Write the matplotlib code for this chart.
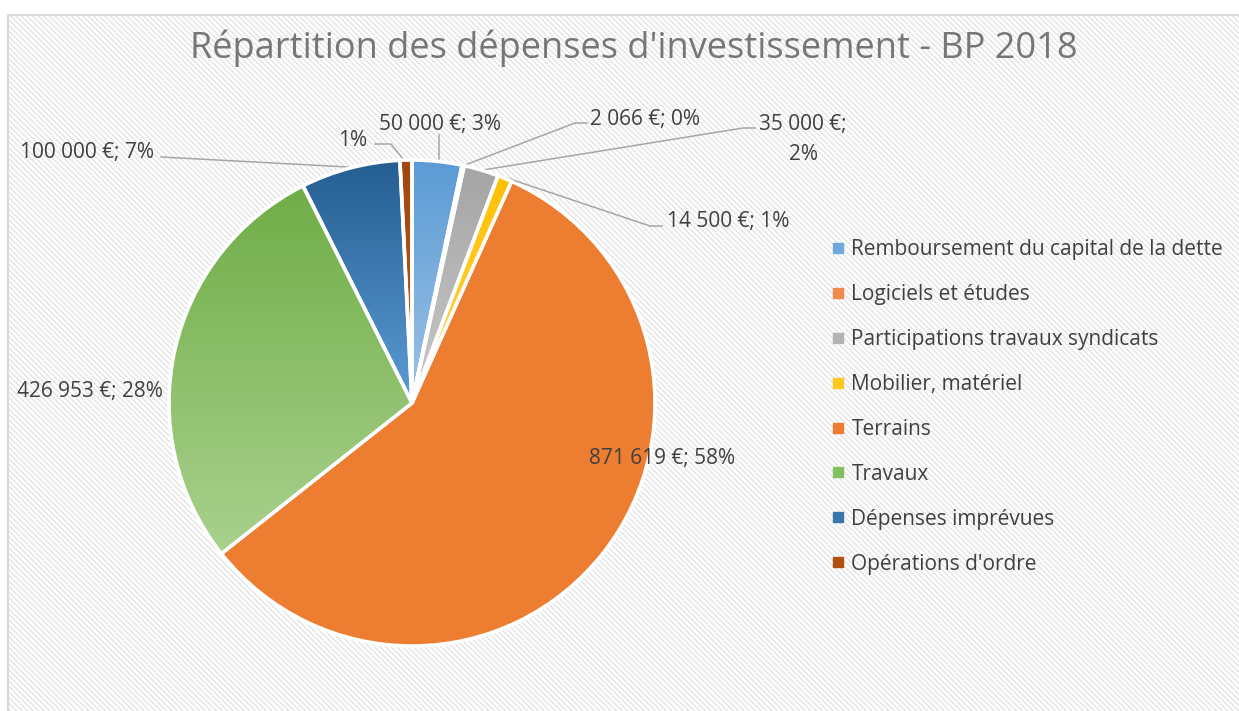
import matplotlib
matplotlib.use('Agg')
import matplotlib.pyplot as plt
import numpy as np
from matplotlib.patches import Rectangle
from matplotlib.lines import Line2D
from matplotlib.colors import LinearSegmentedColormap

title = "Répartition des dépenses d'investissement - BP 2018"
categories = ['Remboursement du capital de la dette', 'Logiciels et études',
              'Participations travaux syndicats', 'Mobilier, matériel',
              'Terrains', 'Travaux', 'Dépenses imprévues', "Opérations d'ordre"]
values = [50000, 2066, 35000, 14500, 871619, 426953, 100000, 12000]
show_value = [True, True, True, True, True, True, True, False]

# gradient colours of each slice, top -> bottom
top_colors = ['#5B9BD5', '#ED7D31', '#A5A5A5', '#FFC000', '#ED7D31', '#70AD47', '#255E91', '#9E480E']
bottom_colors = ['#9DC3E6', '#F4B183', '#C9C9C9', '#FFD54F', '#ED7D31', '#A9D18E', '#5B9BD5', '#C55A11']
legend_colors = ['#6FA8DC', '#F08B4F', '#B3B3B3', '#FFC820', '#ED7D31', '#85BE60', '#3A75AD', '#B0500F']

# label layout in pixels (x, baseline y from top, alignment)
label_pos = [(440, 130, 'center'), (590, 125, 'left'), (803, 130, 'center'), (667, 227, 'left'),
             (662, 464, 'center'), (17, 397, 'left'), (154, 158, 'right'), (367, 146, 'right')]
leader_lines = [
    ([439, 439], [135, 162]),
    ([465, 575, 587], [165, 123, 123]),
    ([483, 743, 755], [170, 128, 128]),
    ([507, 650, 662], [178, 226, 226]),
    None, None,
    ([161, 348], [157, 167]),
    ([375, 391, 404], [144, 144, 160]),
]

W, H = 1239, 711


def Y(y):
    return H - np.asarray(y)


plt.rcParams['font.family'] = ['Open Sans', 'DejaVu Sans']
plt.rcParams['hatch.linewidth'] = 1.0

fig = plt.figure(figsize=(W / 100, H / 100), dpi=100)
ax = fig.add_axes([0, 0, 1, 1])

# hatched chart area
ax.add_patch(Rectangle((8, -10), W, Y(15) + 10, facecolor='white', edgecolor='#E4E4E4',
                       hatch='\\' * 6, lw=0, zorder=0))
ax.add_patch(Rectangle((8, -10), W, Y(15) + 10, fill=False, edgecolor='#D9D9D9', lw=1.5, zorder=0.1))

wedges, _ = ax.pie(values, colors=top_colors, startangle=90, counterclock=False,
                   center=(412, float(Y(403))), radius=243,
                   wedgeprops=dict(edgecolor='white', linewidth=2.6))

for w, c0, c1 in zip(wedges, top_colors, bottom_colors):
    if c0 == c1:
        continue
    ext = w.get_path().get_extents()
    cmap = LinearSegmentedColormap.from_list('g', [c0, c1])
    grad = np.linspace(0, 1, 256).reshape(-1, 1)
    im = ax.imshow(grad, cmap=cmap, extent=(ext.x0, ext.x1, ext.y0, ext.y1), origin='upper',
                   aspect='auto', interpolation='bilinear', zorder=1.5)
    im.set_clip_path(w)
    w.set_facecolor('none')
    w.set_zorder(2)

total = sum(values)
for v, show, pos, line in zip(values, show_value, label_pos, leader_lines):
    pct = '%d%%' % round(100 * v / total)
    if show:
        txt = '{:,}'.format(v).replace(',', ' ') + ' €; ' + pct
    else:
        txt = pct
    x, yb, ha = pos
    parts = [txt]
    if v == 35000:
        parts = txt.replace('; ', ';\n').split('\n')
    for i, part in enumerate(parts):
        ax.text(x, Y(yb + 30 * i), part, ha=ha, va='baseline', fontsize=15, color='#404040')
    if line is not None:
        ax.plot(line[0], Y(line[1]), color='#A6A6A6', lw=1.1, zorder=1)

ax.text(634, Y(58), title, ha='center', va='baseline', fontsize=26, color='#767676')

handles = [Line2D([], [], marker='s', ls='none', color=c, markersize=6.5) for c in legend_colors]
ax.legend(handles, categories, loc='upper left', bbox_to_anchor=(832, float(Y(239))),
          bbox_transform=ax.transData, frameon=False, fontsize=15, labelcolor='#404040',
          labelspacing=1.15, handlelength=0.6, handletextpad=0.33, borderaxespad=0, borderpad=0)

ax.set_xlim(0, W)
ax.set_ylim(0, H)
ax.set_aspect('auto')
ax.axis('off')

fig.savefig('out.png', dpi=100, facecolor='white')
